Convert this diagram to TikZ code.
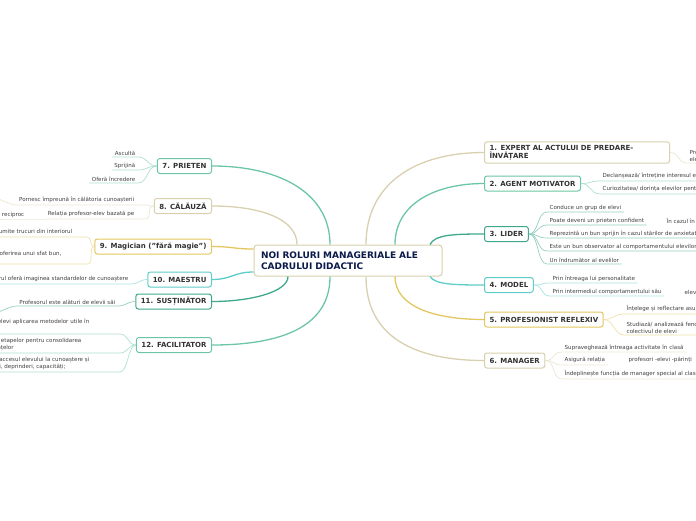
\documentclass[tikz,border=0pt]{standalone}
\usepackage{fontspec}
\setmainfont{DejaVu Sans}
\usepackage{xcolor}
\usepackage{tikz}

\definecolor{rootText}{HTML}{0B1A4A}
\definecolor{cBeige}{HTML}{D8D0AE}
\definecolor{cGreen}{HTML}{6CC6A4}
\definecolor{cTeal}{HTML}{3FA88C}
\definecolor{cTurq}{HTML}{5ECCC8}
\definecolor{cGold}{HTML}{E2C760}

\tikzset{
  root/.style={draw=cBeige, line width=1pt, rounded corners=3pt, fill=white, text=rootText,
    font=\bfseries\fontsize{9}{10.5}\selectfont, text width=174pt, align=left,
    inner xsep=7pt, minimum height=31pt},
  role/.style={draw=#1, line width=1pt, rounded corners=2.5pt, fill=white, text=black!80,
    font=\bfseries\fontsize{7}{8.5}\selectfont, inner xsep=5pt, inner ysep=3pt, minimum height=15pt},
  leaf/.style={text=black!75, font=\fontsize{5.55}{7}\selectfont, inner xsep=2.5pt, inner ysep=1.5pt},
  link/.style={draw=#1, line width=1.3pt},
  twig/.style={draw=#1!55, line width=0.7pt},
}

\begin{document}
\begin{tikzpicture}[x=1pt, y=-1pt]
    % Page: 696x520, one unit = one pixel of the map
    \path[use as bounding box, clip] (0,0) rectangle (696,520);

    % Central topic
    \node[root] (root) at (348,260.5) {NOI ROLURI MANAGERIALE ALE\\CADRULUI DIDACTIC};

    % Roles 1-6 (right)
    \node[role=cBeige, anchor=west, text width=175pt, align=left] (r1) at (484,152.5) {1. EXPERT AL ACTULUI DE PREDARE-\\ÎNVĂȚARE};
    \node[role=cGreen, anchor=west] (r2) at (484,183.5) {2. AGENT MOTIVATOR};
    \node[role=cTeal, anchor=west] (r3) at (484,234) {3. LIDER};
    \node[role=cTurq, anchor=west] (r4) at (484,285) {4. MODEL};
    \node[role=cGold, anchor=west] (r5) at (484,319.5) {5. PROFESIONIST REFLEXIV};
    \node[role=cBeige, anchor=west] (r6) at (484,360.5) {6. MANAGER};

    % Roles 7-12 (left)
    \node[role=cGreen, anchor=east] (r7) at (212,166) {7. PRIETEN};
    \node[role=cBeige, anchor=east] (r8) at (212,206) {8. CĂLĂUZĂ};
    \node[role=cGold, anchor=east] (r9) at (212,246.5) {9. Magician ("fără magie")};
    \node[role=cTurq, anchor=east] (r10) at (212,279.5) {10. MAESTRU};
    \node[role=cTeal, anchor=east] (r11) at (212,301.5) {11. SUSȚINĂTOR};
    \node[role=cGreen, anchor=east] (r12) at (212,345) {12. FACILITATOR};

    % Links from the centre
    \draw[link=cBeige] ([xshift=18pt]root.north) .. controls +(0,-60) and +(-70,0) .. (r1.west);
    \draw[link=cGreen] ([xshift=47pt]root.north) .. controls +(0,-40) and +(-50,0) .. (r2.west);
    \draw[link=cTeal] ([xshift=82pt]root.north) .. controls +(5,-10) and +(-30,0) .. (r3.west);
    \draw[link=cTurq] ([xshift=82pt]root.south) .. controls +(5,8) and +(-30,0) .. (r4.west);
    \draw[link=cGold] ([xshift=47pt]root.south) .. controls +(0,30) and +(-50,0) .. (r5.west);
    \draw[link=cBeige] ([xshift=18pt]root.south) .. controls +(0,60) and +(-70,0) .. (r6.west);
    \draw[link=cGreen] ([xshift=-18pt]root.north) .. controls +(0,-50) and +(70,0) .. (r7.east);
    \draw[link=cBeige] ([xshift=-51pt]root.north) .. controls +(0,-25) and +(50,0) .. (r8.east);
    \draw[link=cGold] ([yshift=11.5pt]root.west) .. controls +(-20,0) and +(20,0) .. (r9.east);
    \draw[link=cTurq] ([yshift=-11.5pt]root.west) .. controls +(-20,0) and +(20,0) .. (r10.east);
    \draw[link=cTeal] ([xshift=-60pt]root.south) .. controls +(0,15) and +(40,0) .. (r11.east);
    \draw[link=cGreen] ([xshift=-18pt]root.south) .. controls +(0,50) and +(70,0) .. (r12.east);

    % 1. Expert
    \node[leaf, anchor=south west, align=left] (l1a) at (687,163) {Proiectează activitatea\\elevilor};
    \draw[twig=cBeige] (r1.east) .. controls +(10,0) and +(-10,0) .. (l1a.south west) -- (l1a.south east);

    % 2. Agent motivator
    \node[leaf, anchor=south west] (l2a) at (600,181) {Declanșează/ întreține interesul elevilor};
    \node[leaf, anchor=south west] (l2b) at (600,194) {Curiozitatea/ dorința elevilor pentru cunoaștere};
    \foreach \l in {l2a,l2b}
        \draw[twig=cGreen] (r2.east) .. controls +(10,0) and +(-10,0) .. (\l.south west) -- (\l.south east);

    % 3. Lider
    \node[leaf, anchor=south west] (l3a) at (547,212) {Conduce un grup de elevi};
    \node[leaf, anchor=south west] (l3b) at (547,225) {Poate deveni un prieten confident};
    \node[leaf, anchor=south west] (l3c) at (547,238) {Reprezintă un bun sprijin în cazul stărilor de anxietate};
    \node[leaf, anchor=south west] (l3d) at (547,251) {Este un bun observator al comportamentului elevilor};
    \node[leaf, anchor=south west] (l3e) at (547,264) {Un îndrumător al evelilor};
    \node[leaf, anchor=south west] (s3b) at (664,225) {În cazul în care};
    \foreach \l in {l3a,l3b,l3c,l3d,l3e}
        \draw[twig=cTeal] (r3.east) .. controls +(10,0) and +(-10,0) .. (\l.south west) -- (\l.south east);

    % 4. Model
    \node[leaf, anchor=south west] (l4a) at (550,283) {Prin întreaga lui personalitate};
    \node[leaf, anchor=south west] (l4b) at (550,296) {Prin intermediul comportamentului său};
    \node[leaf, anchor=south west] (s4b) at (682,296) {elevilor};
    \foreach \l in {l4a,l4b}
        \draw[twig=cTurq] (r4.east) .. controls +(10,0) and +(-10,0) .. (\l.south west) -- (\l.south east);

    % 5. Profesionist reflexiv
    \node[leaf, anchor=south west] (l5a) at (624,314) {Înțelege și reflectare asupra activității};
    \node[leaf, anchor=south west, align=left] (l5b) at (624,335) {Studiază/ analizează fenomenele din\\colectivul de elevi};
    \foreach \l in {l5a,l5b}
        \draw[twig=cGold] (r5.east) .. controls +(10,0) and +(-10,0) .. (\l.south west) -- (\l.south east);

    % 6. Manager
    \node[leaf, anchor=south west] (l6a) at (562,352) {Supraveghează întreaga activitate în clasă};
    \node[leaf, anchor=south west] (l6b) at (562,365) {Asigură relația};
    \node[leaf, anchor=south west] (s6b) at (626,365) {profesori -elevi -părinți};
    \node[leaf, anchor=south west] (l6c) at (562,379) {Îndeplinește funcția de manager special al clasei};
    \foreach \l in {l6a,l6b,l6c}
        \draw[twig=cBeige] (r6.east) .. controls +(10,0) and +(-10,0) .. (\l.south west) -- (\l.south east);

    % 7. Prieten
    \node[leaf, anchor=south east] (l7a) at (138,157) {Ascultă};
    \node[leaf, anchor=south east] (l7b) at (138,170) {Sprijină};
    \node[leaf, anchor=south east] (l7c) at (138,183) {Oferă încredere};
    \foreach \l in {l7a,l7b,l7c}
        \draw[twig=cGreen] (r7.west) .. controls +(-10,0) and +(10,0) .. (\l.south east) -- (\l.south west);

    % 8. Calauza
    \node[leaf, anchor=south east] (l8a) at (137,205) {Pornesc împreună în călătoria cunoașterii};
    \node[leaf, anchor=south east] (l8b) at (137,219) {Relația profesor-elev bazată pe};
    \node[leaf, anchor=south east] (s8b) at (27,219) {respect reciproc};
    \coordinate (o8a) at (-12,196);
    \foreach \l in {l8a,l8b}
        \draw[twig=cBeige] (r8.west) .. controls +(-8,0) and +(8,0) .. ([xshift=8pt]\l.south east) -- (\l.south west);
    \draw[twig=cBeige] (l8a.south west) .. controls +(-8,0) and +(8,0) .. (o8a);
    \draw[twig=cBeige] (l8b.south west) -- (s8b.south east) -- (s8b.south west);

    % 9. Magician
    \node[leaf, anchor=south east] (l9a) at (75,237) {Folosește anumite trucuri din interiorul};
    \node[leaf, anchor=south east, align=left] (l9b) at (64,264) {Ajută prin oferirea unui sfat bun,\\la nevoie};
    \draw[twig=cGold] (r9.west) .. controls +(-6,0) and +(6,0) .. ([xshift=12pt]l9a.south east) -- (l9a.south west);
    \draw[twig=cGold] (r9.west) .. controls +(-6,0) and +(6,0) .. ([xshift=24pt]l9b.south east) -- (l9b.south west);

    % 10. Maestru
    \node[leaf, anchor=south east] (l10a) at (131,284) {Maestrul oferă imaginea standardelor de cunoaștere};
    \draw[twig=cTurq] (r10.west) .. controls +(-8,0) and +(8,0) .. (l10a.south east) -- (l10a.south west);

    % 11. Sustinator
    \node[leaf, anchor=south east] (l11a) at (118,306) {Profesorul este alături de elevii săi};
    \coordinate (o11a) at (-10,314);
    \draw[twig=cTeal] (r11.west) .. controls +(-8,0) and +(8,0) .. (l11a.south east) -- (l11a.south west);
    \draw[twig=cTeal] (l11a.south west) .. controls +(-8,0) and +(8,0) .. (o11a);

    % 12. Facilitator
    \node[leaf, anchor=south east, align=left] (l12a) at (92,334) {Urmărește la elevi aplicarea metodelor utile în\\învățare};
    \node[leaf, anchor=south east, align=left] (l12b) at (84,353) {Ordinea etapelor pentru consolidarea\\cunoștințelor};
    \node[leaf, anchor=south east, align=left] (l12c) at (92,372) {Permite accesul elevului la cunoaștere și\\priceperi, deprinderi, capacități;};
    \draw[twig=cGreen] (r12.west) .. controls +(-8,0) and +(8,0) .. ([xshift=28pt]l12a.south east) -- (l12a.south west);
    \draw[twig=cGreen] (r12.west) .. controls +(-8,0) and +(8,0) .. ([xshift=36pt]l12b.south east) -- (l12b.south west);
    \draw[twig=cGreen] (r12.west) .. controls +(-8,0) and +(8,0) .. ([xshift=28pt]l12c.south east) -- (l12c.south west);
\end{tikzpicture}
\end{document}
